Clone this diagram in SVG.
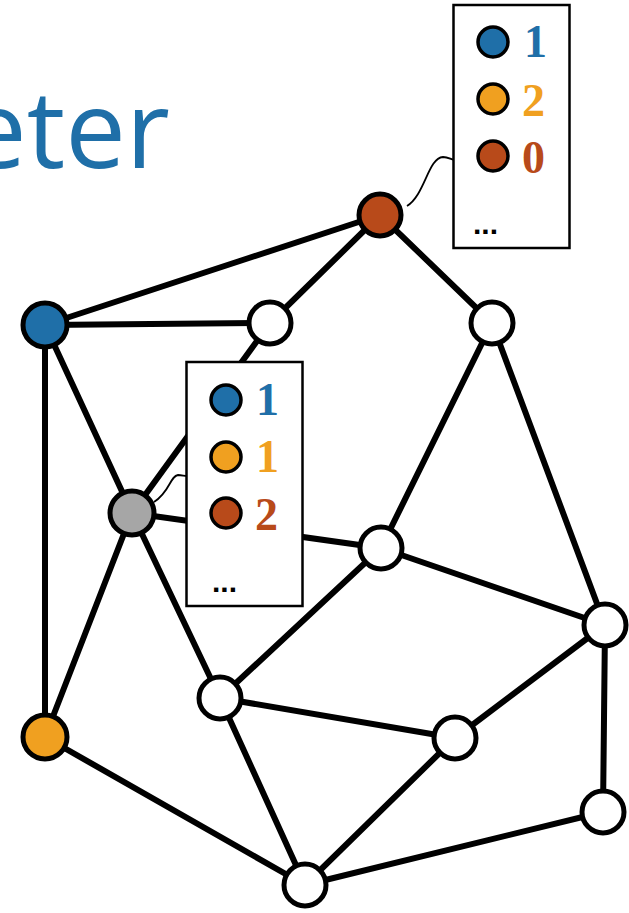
<svg xmlns="http://www.w3.org/2000/svg" width="629" height="913" viewBox="0 0 629 913">
<style>
.e{stroke:#000;stroke-width:6;fill:none;stroke-linecap:round}
.n{stroke:#000;stroke-width:5}
.w{fill:#fff}
.box{fill:#fff;stroke:#000;stroke-width:2.5}
.lc{stroke:#000;stroke-width:3.5}
.num{font-family:"Liberation Serif",serif;font-weight:bold;font-size:46px}
.dots{font-family:"Liberation Sans",sans-serif;font-weight:bold;font-size:30px}
.cb{fill:#1f6fa8}.co{fill:#f0a020}.cr{fill:#b84a1a}.cg{fill:#a6a6a6}
.call{stroke:#000;stroke-width:1.8;fill:none}
</style>
<rect width="629" height="913" fill="#fff"/>
<text x="170" y="168" text-anchor="end" font-family="'Open Sans',sans-serif" font-size="108" fill="#1f6fa8">eter</text>
<g id="connectors">
<line class="e" x1="45" y1="325" x2="380" y2="215"/>
<line class="e" x1="45" y1="325" x2="270" y2="323"/>
<line class="e" x1="380" y1="215" x2="270" y2="323"/>
<line class="e" x1="380" y1="215" x2="492" y2="323"/>
<line class="e" x1="45" y1="325" x2="45" y2="737"/>
<line class="e" x1="45" y1="325" x2="132" y2="513"/>
<line class="e" x1="270" y1="323" x2="132" y2="513"/>
<line class="e" x1="132" y1="513" x2="381" y2="548"/>
<line class="e" x1="132" y1="513" x2="45" y2="737"/>
<line class="e" x1="132" y1="513" x2="220" y2="698"/>
<line class="e" x1="492" y1="323" x2="381" y2="548"/>
<line class="e" x1="492" y1="323" x2="605" y2="625"/>
<line class="e" x1="381" y1="548" x2="605" y2="625"/>
<line class="e" x1="381" y1="548" x2="220" y2="698"/>
<line class="e" x1="220" y1="698" x2="455" y2="738"/>
<line class="e" x1="455" y1="738" x2="605" y2="625"/>
<line class="e" x1="605" y1="625" x2="603" y2="812"/>
<line class="e" x1="220" y1="698" x2="305" y2="885"/>
<line class="e" x1="45" y1="737" x2="305" y2="885"/>
<line class="e" x1="455" y1="738" x2="305" y2="885"/>
<line class="e" x1="603" y1="812" x2="305" y2="885"/>
<path class="call" d="M407,206 C425,195 428,158 443,157 C448,157 450,159 454,160"/>
<path class="call" d="M154,502 C170,492 170,476 178,475 C182,475 184,476 187,476"/>
</g>
<g id="n-brown"><circle class="n cr" cx="380" cy="215" r="21"/></g>
<g id="n-blue"><circle class="n cb" cx="45" cy="325" r="22"/></g>
<g id="n-a"><circle class="n w" cx="270" cy="323" r="21"/></g>
<g id="n-b"><circle class="n w" cx="492" cy="323" r="21"/></g>
<g id="n-gray"><circle class="n cg" cx="132" cy="513" r="22"/></g>
<g id="n-c"><circle class="n w" cx="381" cy="548" r="21"/></g>
<g id="n-d"><circle class="n w" cx="605" cy="625" r="21"/></g>
<g id="n-e"><circle class="n w" cx="220" cy="698" r="21"/></g>
<g id="n-orange"><circle class="n co" cx="45" cy="737" r="22"/></g>
<g id="n-f"><circle class="n w" cx="455" cy="738" r="21"/></g>
<g id="n-g"><circle class="n w" cx="603" cy="812" r="21"/></g>
<g id="n-h"><circle class="n w" cx="305" cy="885" r="21"/></g>
<g id="box1">
<rect class="box" x="453.5" y="5" width="116" height="243"/>
<circle class="lc cb" cx="493" cy="42" r="15"/>
<circle class="lc co" cx="493" cy="99" r="15"/>
<circle class="lc cr" cx="493" cy="156" r="15"/>
<text class="num cb" x="524" y="57">1</text>
<text class="num co" x="522" y="116">2</text>
<text class="num cr" x="522" y="173">0</text>
<text class="dots" x="473" y="234">...</text>
</g>
<g id="box2">
<rect class="box" x="186.5" y="362" width="116" height="244"/>
<circle class="lc cb" cx="226" cy="400" r="15"/>
<circle class="lc co" cx="226" cy="457" r="15"/>
<circle class="lc cr" cx="226" cy="513" r="15"/>
<text class="num cb" x="256" y="415">1</text>
<text class="num co" x="256" y="472">1</text>
<text class="num cr" x="255" y="530">2</text>
<text class="dots" x="212" y="592">...</text>
</g>
</svg>
